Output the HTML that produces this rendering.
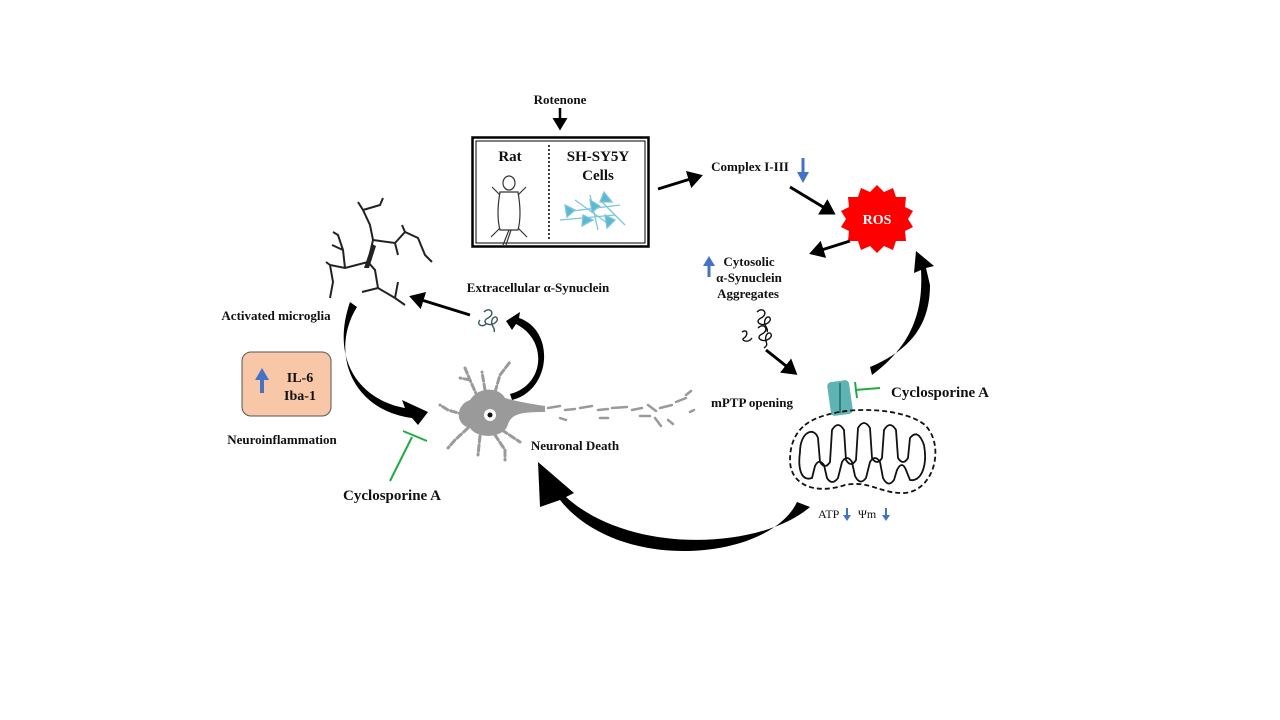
<!DOCTYPE html>
<html><head><meta charset="utf-8"><style>
html,body{margin:0;padding:0;background:#fff;}
svg{display:block;}
text{font-family:"Liberation Serif",serif;font-weight:bold;fill:#111;}
</style></head><body>
<svg width="1280" height="720" viewBox="0 0 1280 720" xmlns="http://www.w3.org/2000/svg">
<defs>
<marker id="ah" markerWidth="6" markerHeight="6" refX="4" refY="3" orient="auto" markerUnits="strokeWidth"><path d="M0,0 L5,3 L0,6 z" fill="#000"/></marker>
</defs>
<text x="560" y="104" font-size="13" text-anchor="middle">Rotenone</text>
<line x1="560" y1="108" x2="560" y2="128" stroke="#000" stroke-width="2.5" marker-end="url(#ah)"/>
<rect x="472.5" y="137.5" width="176" height="109" fill="none" stroke="#000" stroke-width="2.5"/>
<rect x="476" y="141" width="169" height="102" fill="none" stroke="#000" stroke-width="1"/>
<line x1="549" y1="145" x2="549" y2="240" stroke="#000" stroke-width="1.5" stroke-dasharray="2,2"/>
<text x="510" y="161" font-size="15" text-anchor="middle">Rat</text>
<text x="598" y="161" font-size="15" text-anchor="middle">SH-SY5Y</text>
<text x="598" y="180" font-size="15" text-anchor="middle">Cells</text>
<g fill="none" stroke="#333" stroke-width="1.2">
<ellipse cx="509" cy="183" rx="6" ry="7"/>
<path d="M500,192 Q496,215 500,230 L518,230 Q522,215 518,192 Z"/>
<path d="M500,195 L492,187 M518,195 L526,187 M500,228 L491,237 M518,228 L527,237"/>
<path d="M509,230 L503,245 M511,230 L506,245"/>
</g>
<g stroke="#7cc6d8" stroke-width="1.3" fill="#5bb8d0">
<path d="M565,212 L620,205 M575,200 L610,225 M590,195 L598,230 M560,220 L615,215 M600,200 L625,225" fill="none"/>
<polygon points="565,205 575,210 567,217"/><polygon points="590,200 600,206 592,212"/>
<polygon points="604,192 612,202 600,202"/><polygon points="583,215 593,220 582,226"/>
<polygon points="605,215 615,220 607,228"/>
</g>
<line x1="658" y1="189" x2="700" y2="176" stroke="#000" stroke-width="3" marker-end="url(#ah)"/>
<text x="750" y="171" font-size="13" text-anchor="middle">Complex I-III</text>
<line x1="803" y1="158" x2="803" y2="174" stroke="#4472c4" stroke-width="3"/>
<polygon points="797,172 809,172 803,183" fill="#4472c4"/>
<line x1="790" y1="187" x2="833" y2="213" stroke="#000" stroke-width="3" marker-end="url(#ah)"/>
<polygon fill="#f00" points="877,185 884,192 893,188 896,197 906,197 905,207 913,211 908,219 913,227 905,231 906,241 896,241 893,250 884,246 877,253 870,246 861,250 858,241 848,241 849,231 841,227 846,219 841,211 849,207 848,197 858,197 861,188 870,192"/>
<text x="877" y="224" font-size="14" text-anchor="middle" style="fill:#fff">ROS</text>
<line x1="850" y1="241" x2="812" y2="253" stroke="#000" stroke-width="3" marker-end="url(#ah)"/>
<line x1="709" y1="264" x2="709" y2="277" stroke="#4472c4" stroke-width="3"/>
<polygon points="703,266 715,266 709,256" fill="#4472c4"/>
<text x="749" y="266" font-size="13" text-anchor="middle">Cytosolic</text>
<text x="749" y="282" font-size="13" text-anchor="middle">α-Synuclein</text>
<text x="748" y="298" font-size="13" text-anchor="middle">Aggregates</text>
<g fill="none" stroke="#111" stroke-width="1.4">
<path d="M757,312 c6,-6 12,2 4,6 c-8,4 2,10 8,4 c4,-4 -2,-8 -4,-2 c-2,6 4,8 2,12"/>
<path d="M742,332 c6,-4 6,4 2,6 c-4,2 4,6 8,0 M758,328 c6,-6 12,2 4,6 c-8,4 2,10 8,4 c4,-4 -2,-8 -4,-2 c-2,6 4,8 -2,12"/>
</g>
<line x1="766" y1="350" x2="795" y2="373" stroke="#000" stroke-width="3" marker-end="url(#ah)"/>
<text x="752" y="407" font-size="13" text-anchor="middle">mPTP opening</text>
<rect x="829" y="381" width="22" height="34" rx="4" fill="#5fb3b3" transform="rotate(-8 840 398)"/>
<line x1="840" y1="383" x2="840" y2="413" stroke="#2f7f7f" stroke-width="2"/>
<path d="M880,388 L855,390" stroke="#22aa44" stroke-width="2"/>
<path d="M855,382 L857,398" stroke="#22aa44" stroke-width="2"/>
<text x="940" y="397" font-size="15" text-anchor="middle">Cyclosporine A</text>
<path d="M805,425 C830,405 900,405 925,425 C945,445 935,490 905,493 C880,494 870,480 845,485 C815,495 790,485 790,460 C790,445 795,433 805,425 Z" fill="none" stroke="#111" stroke-width="1.8" stroke-dasharray="5,3"/>
<path d="M800,452 C800,432 814,426 818,438 L820,462 Q825,470 830,462 L832,430 Q838,420 844,430 L846,460 Q851,468 856,460 L858,428 Q864,418 870,428 L872,458 Q877,466 882,458 L884,430 Q890,420 896,430 L898,458 Q903,466 908,458 L910,438 Q918,428 924,445 C928,468 920,482 910,480 L906,470 Q902,460 897,470 L894,480 Q888,488 883,478 L880,462 Q875,454 870,462 L866,478 Q860,486 855,476 L852,462 Q847,454 842,462 L838,478 Q832,486 827,478 L824,465 Q819,458 815,466 L812,478 C800,482 798,466 800,452 Z" fill="none" stroke="#111" stroke-width="1.8"/>
<text x="818" y="518" font-size="12" style="font-weight:normal">ATP</text>
<line x1="847" y1="508" x2="847" y2="516" stroke="#4472c4" stroke-width="2"/><polygon points="843,515 851,515 847,521" fill="#4472c4"/>
<text x="858" y="518" font-size="12" style="font-weight:normal">Ψm</text>
<line x1="886" y1="508" x2="886" y2="516" stroke="#4472c4" stroke-width="2"/><polygon points="882,515 890,515 886,521" fill="#4472c4"/>
<path d="M870,367 C905,352 930,330 930,285 L926,268 L934,266 L916,251 L914,273 L921,270 C924,320 905,350 872,375 Z" fill="#000"/>
<path d="M797,502 C770,560 620,575 560,500 L540,507 L538,462 L574,493 L566,497 C630,555 760,550 810,507 Z" fill="#000"/>
<g fill="none" stroke="#222" stroke-width="2">
<path d="M368,262 L373,240 L370,225 L363,210 L358,202 M363,210 L380,205 L383,198 M373,240 L395,243 L405,232 L418,238 L425,255 L432,262 M405,232 L402,225 M395,243 L398,255"/>
<path d="M368,262 L345,268 L330,265 L326,262 M330,265 L333,282 L330,298 M345,268 L343,250 L338,235 L333,232 M343,250 L332,245"/>
<path d="M368,262 L375,270 L378,288 L395,298 L405,305 M378,288 L362,292 M395,298 L398,282"/>
</g>
<path d="M364,268 L372,244 L376,246 L369,268 Z" fill="#222"/>
<text x="276" y="320" font-size="13" text-anchor="middle">Activated microglia</text>
<rect x="242" y="352" width="89" height="64" rx="9" fill="#f7c7a8" stroke="#555" stroke-width="1"/>
<line x1="262" y1="378" x2="262" y2="393" stroke="#4472c4" stroke-width="4"/>
<polygon points="255,380 269,380 262,368" fill="#4472c4"/>
<text x="300" y="382" font-size="14" text-anchor="middle">IL-6</text>
<text x="300" y="400" font-size="14" text-anchor="middle">Iba-1</text>
<text x="282" y="444" font-size="13" text-anchor="middle">Neuroinflammation</text>
<path d="M350,302 C330,360 360,400 405,408 L402,400 L428,412 L418,425 L412,418 C350,410 330,350 357,307 Z" fill="#000"/>
<g fill="#9a9a9a">
<path d="M470,400 C480,385 500,388 505,398 C512,400 520,402 545,406 L545,412 C520,412 512,414 508,424 C505,438 478,440 470,428 C455,425 455,405 470,400 Z"/>
</g>
<g stroke="#9a9a9a" stroke-width="3" fill="none" stroke-linecap="round">
<path d="M478,398 L470,380 L465,368 M470,380 L460,378 M495,392 L500,375 L510,362 M465,415 L448,410 L440,405 M468,428 L455,440 L448,448 M480,436 L478,455 M495,435 L505,450 L505,460 M502,430 L520,442 M485,390 L482,372" stroke-dasharray="6,3"/>
<path d="M548,408 l12,-2 M565,410 l10,-1 M580,408 l12,-2 M598,410 l10,-1 M612,408 l15,-1 M632,410 l10,-2 M648,405 l8,6 M660,408 l12,-3 M676,402 l10,-4 M686,395 l5,-4 M655,418 l6,8 M668,420 l5,4 M690,412 l4,-2 M560,418 l6,2 M600,418 l8,0 M640,416 l10,0" stroke-width="2.5"/>
</g>
<circle cx="490" cy="415" r="6" fill="#fff"/><circle cx="490" cy="415" r="2.5" fill="#111"/>
<text x="575" y="450" font-size="13" text-anchor="middle">Neuronal Death</text>
<path d="M510,394 C545,385 548,340 516,324 L512,330 L506,321 L520,312 L519,318 C555,330 552,390 512,400 Z" fill="#000"/>
<g fill="none" stroke="#3a5a5a" stroke-width="1.4">
<path d="M484,312 c6,-6 12,2 4,6 c-8,4 2,10 8,4 c4,-4 -2,-8 -4,-2 c-2,6 4,8 2,12 M480,320 c-4,4 2,8 6,4"/>
</g>
<line x1="470" y1="315" x2="412" y2="297" stroke="#000" stroke-width="3" marker-end="url(#ah)"/>
<text x="538" y="292" font-size="13" text-anchor="middle">Extracellular α-Synuclein</text>
<line x1="390" y1="481" x2="412" y2="437" stroke="#22aa44" stroke-width="2"/>
<line x1="403" y1="431" x2="427" y2="441" stroke="#22aa44" stroke-width="2"/>
<text x="392" y="500" font-size="15" text-anchor="middle">Cyclosporine A</text>
</svg>
</body></html>
